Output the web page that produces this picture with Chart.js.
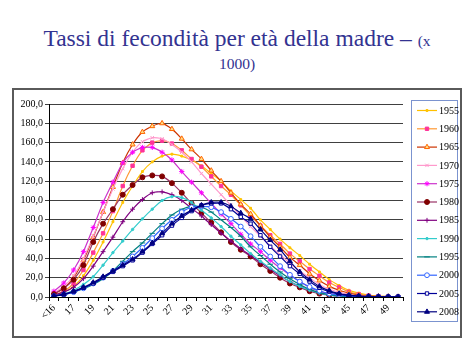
<!DOCTYPE html>
<html><head><meta charset="utf-8">
<script src="https://cdn.jsdelivr.net/npm/chart.js@4.4.0/dist/chart.umd.min.js"></script>
<style>
html,body{margin:0;padding:0;background:#fff;width:474px;height:355px;overflow:hidden}
#title{position:absolute;left:0;top:28px;width:474px;text-align:center;font-family:"Liberation Serif","Times New Roman",serif;color:#333391;font-size:23.5px;line-height:20px}
#title small{font-size:15.5px}
#frame{position:absolute;left:12px;top:88px;width:446px;height:246px;border:2px solid #5a5a5a}
#wrap{position:absolute;left:0;top:0;width:474px;height:355px}
</style></head><body>
<div id="title">Tassi di fecondità per età della madre – <small>(x</small><br><small>1000)</small></div>
<div id="frame"></div>
<div id="wrap"><canvas id="c"></canvas></div>
<script>
const ages = ['<16','16','17','18','19','20','21','22','23','24','25','26','27','28','29','30','31','32','33','34','35','36','37','38','39','40','41','42','43','44','45','46','47','48','49','50'];
const years = ['1955','1960','1965','1970','1975','1980','1985','1990','1995','2000','2005','2008'];
const yTicks = [0,20,40,60,80,100,120,140,160,180,200];

const s1955 = [2,5,11,22,38,57,78,98,115,130,140,146,148,146,142,136,128,120,110,101,92,80,70,60,51,43,34,26,18,12,7,4,2,1,0.5,0.3];
const s1960 = [2,6,14,28,46,66,89,115,136,152,160,162,159,152,143,135,125,115,106,95,84,74,64,55,45,37,29,22,15,10,5.5,3,1.5,0.8,0.4,0.2];
const s1965 = [3,9,20,38,62,88,114,139,158,171,177,180,174,164,153,143,131,120,108,96,86,74,62,52,41,33,24,17,11,7,4,2,1,0.5,0.3,0.2];
const s1970 = [4,11,22,40,63,88,112,133,150,161,165,164,158,150,140,128,117,106,95,84,73,63,53,44,35,27,20,13,8,5,2.5,1.2,0.6,0.3,0.2,0.1];
const s1975 = [6,14.5,28,47,72,98,119,139,150,155,155,150,142,130,119,108,97,86,76,65,55,47,38,30,23,16,10,6,3.5,2,1,0.5,0.3,0.2,0.1,0];
const s1980 = [3,9,18,33,57,76,91,106,116,124,126,125,118,108,97,87,77,67,57,49,42,34,27,20,14,10,6,3.5,2,1,0.6,0.3,0.2,0.1,0.1,0];
const s1985 = [2,5,10,19,32,47,62,78,91,101,108,109,106,100,92,84,75,66,58,50,43,36,29,22,16,11,7,4,2,1,0.5,0.3,0.2,0.1,0.1,0];
const s1990 = [1,3,7,13,21,33,46,58,70,81,91,100,104,103,98,90,82,73,63,54,45,37,30,23,16,11,7,4,2,1,0.5,0.3,0.2,0.1,0.1,0];
const s1995 = [1,2.5,5,8.5,13,19,27,37,47,56,66,76,85,91,94,93,88,80,72,63,52,43,34,26,19,13,8,4.5,2.5,1.2,0.6,0.3,0.2,0.1,0.1,0];
const s2000 = [1,2.5,5,9,14,20,27,34,42,51,61,71,80,88,93,94,93,88,81,73,63,52,42,32,23,16,10.5,6.5,3.5,2,1,0.5,0.3,0.2,0.1,0.1];
const s2005 = [1,2.5,5.5,9.5,14,20,26,32,38,46,55,64,74,82,89,95,97,97,91,83,76,64,52,42,32,24,16,9.5,5.5,3,1.5,0.8,0.5,0.3,0.2,0.1];
const s2008 = [1,3,6,10,15,21,27,33,39,47,56,66,76,84,90,95,98,98,94,87,81,70,59,49,37,26,18,11,6.5,3.5,2,1,0.6,0.4,0.3,0.2];

const seriesData = [s1955,s1960,s1965,s1970,s1975,s1980,s1985,s1990,s1995,s2000,s2005,s2008];
const styles = [
  {line:'#FFC000', style:'rect', r:1.3, fill:'#FFD700', border:'#FFC000'},
  {line:'#FF9933', style:'rect', r:2.4, fill:'#FF3399', border:'#FF3399'},
  {line:'#CC3300', style:'triangle', r:2.9, fill:'#FFE08A', border:'#FF6600'},
  {line:'#FF99CC', style:'crossRot', r:2.4, fill:'#FF99CC', border:'#FF99CC'},
  {line:'#CC33CC', style:'star', r:2.6, fill:'#FF33FF', border:'#FF00FF'},
  {line:'#993366', style:'circle', r:2.5, fill:'#800000', border:'#800000'},
  {line:'#800080', style:'cross', r:2.4, fill:'#800080', border:'#800080'},
  {line:'#33CCCC', style:'circle', r:1.2, fill:'#33CCCC', border:'#33CCCC'},
  {line:'#008080', style:'line', r:2.8, fill:'#008080', border:'#008080'},
  {line:'#3366FF', style:'circle', r:2.4, fill:'#FFFFFF', border:'#3366FF'},
  {line:'#000099', style:'rect', r:2.4, fill:'#FFFFFF', border:'#000099'},
  {line:'#000080', style:'triangle', r:2.9, fill:'#000080', border:'#000080'}
];

const datasets = years.map((y,i)=>({
  label: y,
  data: seriesData[i],
  borderColor: styles[i].line,
  backgroundColor: styles[i].fill,
  pointBackgroundColor: styles[i].fill,
  pointBorderColor: styles[i].border,
  pointStyle: styles[i].style,
  pointRadius: styles[i].r,
  pointBorderWidth: 1,
  borderWidth: 1.2,
  tension: 0.2,
  order: years.length - i
}));

const boxLegend = {
  id:'boxLegend',
  afterDraw(chart){
    const ctx = chart.ctx;
    ctx.save();
    const x0 = 411, y0 = 100, w = 46, h = 221;
    ctx.strokeStyle = '#7b93cf'; ctx.lineWidth = 1;
    ctx.strokeRect(x0+0.5, y0+0.5, w, h);
    ctx.font = '10px "Liberation Serif", "Times New Roman", serif';
    ctx.textBaseline = 'middle';
    ctx.textAlign = 'left';
    chart.data.datasets.forEach((ds,i)=>{
      const y = 110.5 + i*18.3;
      ctx.strokeStyle = ds.borderColor; ctx.lineWidth = 1.2;
      ctx.beginPath(); ctx.moveTo(417,y); ctx.lineTo(437,y); ctx.stroke();
      ctx.fillStyle = ds.pointBackgroundColor; ctx.strokeStyle = ds.pointBorderColor; ctx.lineWidth = 1;
      Chart.helpers.drawPoint(ctx, {pointStyle: ds.pointStyle, radius: ds.pointRadius, borderWidth: 1, rotation: 0}, 427, y);
      ctx.fillStyle = '#000';
      ctx.fillText(ds.label, 439, y+0.5);
    });
    ctx.restore();
  }
};

new Chart(document.getElementById('c'), {
  type: 'line',
  data: { labels: ages, datasets: datasets },
  plugins: [boxLegend],
  options: {
    responsive: true, maintainAspectRatio: false, animation: false,
    layout: { padding: { left: 14, top: 104, right: 71, bottom: 18 } },
    plugins: { legend: { display: false }, tooltip: { enabled: false }, title: { display: false } },
    scales: {
      x: {
        type: 'category', offset: true,
        afterFit(scale){ scale.height = 40; },
        grid: { offset: true, drawOnChartArea: false, drawTicks: true, tickLength: 4, color: '#000' },
        border: { color: '#000', width: 1 },
        ticks: {
          autoSkip: false, maxRotation: 45, minRotation: 45, padding: 1,
          color: '#000', font: { family: '"Liberation Serif", "Times New Roman", serif', size: 10 },
          callback: (v,i) => i % 2 === 0 ? ages[i] : ''
        }
      },
      y: {
        min: yTicks[0], max: yTicks[yTicks.length-1],
        afterFit(scale){ scale.width = 35; },
        afterBuildTicks(scale){ scale.ticks = yTicks.map(v=>({value:v})); },
        grid: { color: '#404040', lineWidth: 1, tickLength: 4 },
        border: { color: '#000', width: 1 },
        ticks: {
          color: '#000', padding: 2,
          font: { family: '"Liberation Serif", "Times New Roman", serif', size: 10 },
          callback: v => v.toFixed(1).replace('.', ',')
        }
      }
    }
  }
});
</script>
</body></html>
